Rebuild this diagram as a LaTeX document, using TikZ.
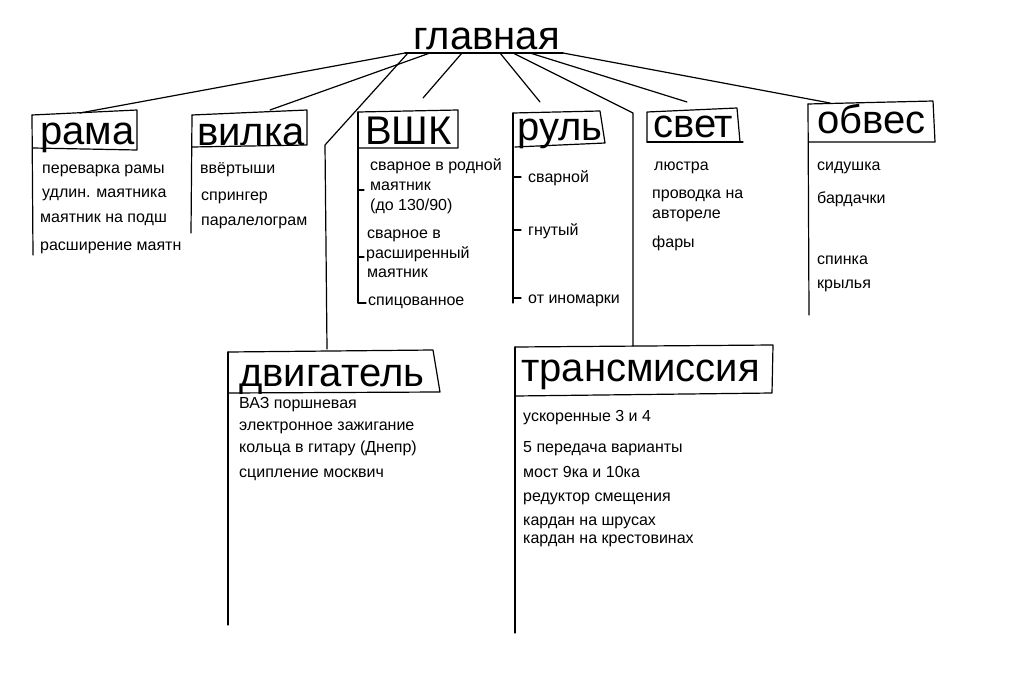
\documentclass[tikz,border=0pt]{standalone}
\usepackage{fontspec}
\setmainfont{Liberation Sans}
\newcommand\HeadFont{\fontsize{40}{40}\selectfont}
\newcommand\ItemFont{\fontsize{16}{16}\selectfont}
\tikzset{
  head/.style={font=\HeadFont, inner sep=0pt, anchor=base west},
  item/.style={font=\ItemFont, inner sep=0pt, anchor=base west},
  ln/.style={line width=1.2pt, line join=round, line cap=round},
}
\begin{document}
\begin{tikzpicture}[x=1pt, y=-1pt]
\fill[white] (0,0) rectangle (1024,682);
\useasboundingbox (0,0) rectangle (1024,682);

% ---- main title
\node[head] (main) at (413,50) {главная};
\coordinate (uL) at (405,53);
\coordinate (uR) at (563,53);
\draw[ln] (uL) -- (uR);

% connector origins on the underline
\coordinate (o1) at (405,53);
\coordinate (o2) at (430,53);
\coordinate (o3) at (408,53);
\coordinate (o4) at (462,53);
\coordinate (o5) at (500,53);
\coordinate (o6) at (513,53);
\coordinate (o7) at (530,53);
\coordinate (o8) at (563,53);

% ---- рама
\node[head] (rama) at (40,144) {рама};
\coordinate (ramaTL) at (32,115);
\coordinate (ramaTR) at (137,110);
\coordinate (ramaBR) at (137,150);
\coordinate (ramaBL) at (33,148);
\coordinate (ramaEnd) at (33,255);
\coordinate (ramaIn) at (80,113);
\draw[ln] (ramaTL) -- (ramaTR) -- (ramaBR) -- (ramaBL);
\draw[ln] (ramaTL) -- (ramaEnd);
\draw[ln] (o1) -- (ramaIn);
\node[item] (r1) at (42,173) {переварка рамы};
\node[item] (r2) at (42,197) {удлин. маятника};
\node[item] (r3) at (40,222) {маятник на подш};
\node[item] (r4) at (40,250) {расширение маятн};

% ---- вилка
\node[head] (vilka) at (197,145) {вилка};
\coordinate (vilTL) at (192,115);
\coordinate (vilTR) at (307,110);
\coordinate (vilBR) at (307,145);
\coordinate (vilBL) at (192,147);
\coordinate (vilEnd) at (191,233);
\coordinate (vilIn) at (270,110);
\draw[ln] (vilTL) -- (vilTR) -- (vilBR) -- (vilBL);
\draw[ln] (vilTL) -- (vilEnd);
\draw[ln] (o2) -- (vilIn);
\node[item] (v1) at (200,173) {ввёртыши};
\node[item] (v2) at (201,200) {спрингер};
\node[item] (v3) at (201,225) {паралелограм};

% ---- двигатель
\node[head] (dvig) at (239,386) {двигатель};
\coordinate (dvTL) at (228,352);
\coordinate (dvTR) at (433,350);
\coordinate (dvBR) at (440,392);
\coordinate (dvBL) at (228,393);
\coordinate (dvEnd) at (228,625);
\coordinate (dvBend) at (325,145);
\coordinate (dvIn) at (327,349);
\draw[ln] (dvTL) -- (dvTR) -- (dvBR) -- (dvBL);
\draw[ln] (dvTL) -- (dvEnd);
\draw[ln] (o3) -- (dvBend) -- (dvIn);
\node[item] (d1) at (239,408) {ВАЗ поршневая};
\node[item] (d2) at (239,430) {электронное зажигание};
\node[item] (d3) at (239,452) {кольца в гитару (Днепр)};
\node[item] (d4) at (239,477) {сципление москвич};

% ---- ВШК
\node[head] (vshk) at (365,144) {ВШК};
\coordinate (vsTL) at (358,112);
\coordinate (vsTR) at (458,110);
\coordinate (vsBR) at (458,148);
\coordinate (vsBL) at (358,148);
\coordinate (vsEnd) at (358,303);
\coordinate (vsHook) at (366,303);
\coordinate (vsFree) at (423,98);
\coordinate (vsT1a) at (358,190);
\coordinate (vsT1b) at (364,190);
\coordinate (vsT2a) at (358,257);
\coordinate (vsT2b) at (364,257);
\draw[ln] (vsTL) -- (vsTR) -- (vsBR) -- (vsBL);
\draw[ln] (vsTL) -- (vsEnd) -- (vsHook);
\draw[ln] (vsT1a) -- (vsT1b);
\draw[ln] (vsT2a) -- (vsT2b);
\draw[ln] (o4) -- (vsFree);
\node[item] (w1) at (370,170) {сварное в родной};
\node[item] (w2) at (370,190) {маятник};
\node[item] (w3) at (370,210) {(до 130/90)};
\node[item] (w4) at (367,238) {сварное в};
\node[item] (w5) at (366,258) {расширенный};
\node[item] (w6) at (367,277) {маятник};
\node[item] (w7) at (368,305) {спицованное};

% ---- руль
\node[head] (rul) at (517,140) {руль};
\coordinate (ruTL) at (513,113);
\coordinate (ruTR) at (600,111);
\coordinate (ruBR) at (605,143);
\coordinate (ruBL) at (515,147);
\coordinate (ruEnd) at (513,303);
\coordinate (ruFree) at (540,102);
\draw[ln] (ruTL) -- (ruTR) -- (ruBR) -- (ruBL);
\draw[ln] (ruTL) -- (ruEnd);
\draw[ln] (o5) -- (ruFree);
\coordinate (ruT1a) at (513,177);
\coordinate (ruT1b) at (521,177);
\coordinate (ruT2a) at (513,230);
\coordinate (ruT2b) at (521,230);
\coordinate (ruT3a) at (513,298);
\coordinate (ruT3b) at (521,298);
\draw[ln] (ruT1a) -- (ruT1b);
\draw[ln] (ruT2a) -- (ruT2b);
\draw[ln] (ruT3a) -- (ruT3b);
\node[item] (u1) at (528,182) {сварной};
\node[item] (u2) at (528,235) {гнутый};
\node[item] (u3) at (528,303) {от иномарки};

% ---- трансмиссия
\node[head] (trans) at (521,381) {трансмиссия};
\coordinate (trTL) at (515,347);
\coordinate (trTR) at (773,345);
\coordinate (trBR) at (772,393);
\coordinate (trBL) at (515,396);
\coordinate (trEnd) at (515,633);
\coordinate (trBend) at (633,113);
\coordinate (trIn) at (633,346);
\draw[ln] (trTL) -- (trTR) -- (trBR) -- (trBL);
\draw[ln] (trTL) -- (trEnd);
\draw[ln] (o6) -- (trBend) -- (trIn);
\node[item] (t1) at (523,421) {ускоренные 3 и 4};
\node[item] (t2) at (523,452) {5 передача варианты};
\node[item] (t3) at (523,477) {мост 9ка и 10ка};
\node[item] (t4) at (523,501) {редуктор смещения};
\node[item] (t5) at (523,525) {кардан на шрусах};
\node[item] (t6) at (523,543) {кардан на крестовинах};

% ---- свет
\node[head] (svet) at (653,137) {свет};
\coordinate (svTL) at (647,112);
\coordinate (svTR) at (737,108);
\coordinate (svBR) at (740,142);
\coordinate (svBRx) at (743,142);
\coordinate (svBL) at (647,142);
\coordinate (svFree) at (687,102);
\draw[ln] (svBL) -- (svTL) -- (svTR) -- (svBR);
\draw[ln] (svBL) -- (svBRx);
\draw[ln] (o7) -- (svFree);
\node[item] (s1) at (654,170) {люстра};
\node[item] (s2) at (652,198) {проводка на};
\node[item] (s3) at (652,218) {автореле};
\node[item] (s4) at (652,247) {фары};

% ---- обвес
\node[head] (obves) at (817,133) {обвес};
\coordinate (obTL) at (808,104);
\coordinate (obTR) at (933,101);
\coordinate (obBR) at (935,142);
\coordinate (obBL) at (809,142);
\coordinate (obEnd) at (809,315);
\coordinate (obIn) at (830,103);
\draw[ln] (obTL) -- (obTR) -- (obBR) -- (obBL);
\draw[ln] (obTL) -- (obEnd);
\draw[ln] (o8) -- (obIn);
\node[item] (b1) at (817,170) {сидушка};
\node[item] (b2) at (817,203) {бардачки};
\node[item] (b3) at (817,264) {спинка};
\node[item] (b4) at (817,288) {крылья};
\end{tikzpicture}
\end{document}
